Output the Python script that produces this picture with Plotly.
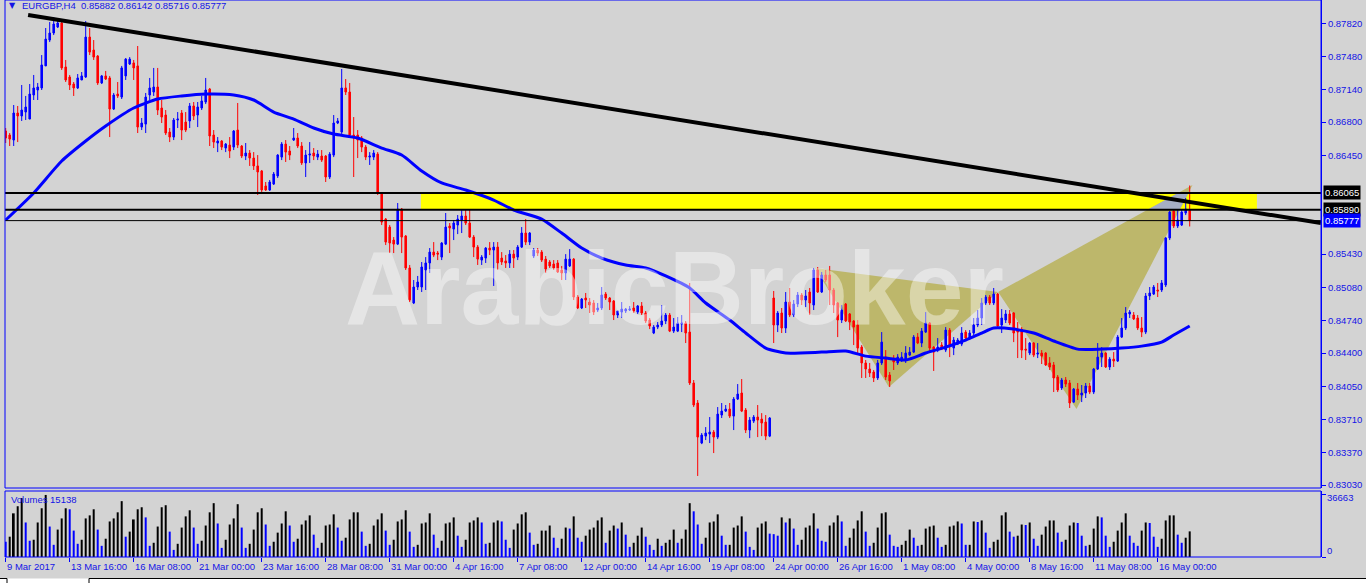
import plotly.graph_objects as go

# ---------------- data ----------------
OPEN = [0.86708,0.86666,0.86614,0.86895,0.86864,0.86905,0.86832,0.87082,0.87134,0.87155,
0.87384,0.87653,0.87726,0.87788,0.87830,0.87373,0.87269,0.87196,0.87155,0.87238,
0.87269,0.87684,0.87549,0.87487,0.87207,0.87280,0.87259,0.86936,0.87092,0.87061,
0.87280,0.87404,0.87415,0.87384,0.86749,0.86780,0.87082,0.87113,0.87165,0.86947,
0.86874,0.86697,0.86645,0.86822,0.86895,0.86801,0.86812,0.86968,0.86874,0.86947,
0.87009,0.87144,0.86666,0.86583,0.86604,0.86531,0.86562,0.86541,0.86718,0.86552,
0.86448,0.86479,0.86427,0.86345,0.86293,0.86137,0.86095,0.86157,0.86241,0.86437,
0.86572,0.86500,0.86614,0.86635,0.86552,0.86376,0.86458,0.86479,0.86437,0.86448,
0.86448,0.86230,0.86458,0.86791,0.86697,0.87155,0.87113,0.86666,0.86666,0.86635,
0.86541,0.86437,0.86437,0.86468,0.86064,0.85793,0.85710,0.85575,0.85533,0.85897,
0.85617,0.85285,0.84921,0.85087,0.85087,0.85264,0.85337,0.85450,0.85440,0.85398,
0.85533,0.85721,0.85689,0.85731,0.85783,0.85825,0.85752,0.85606,0.85502,0.85367,
0.85388,0.85492,0.85471,0.85502,0.85388,0.85358,0.85337,0.85429,0.85398,0.85502,
0.85648,0.85554,0.85409,0.85471,0.85450,0.85377,0.85347,0.85326,0.85337,0.85264,
0.85233,0.85306,0.85377,0.84983,0.84869,0.84973,0.84931,0.84921,0.84848,0.84869,
0.85014,0.84973,0.84942,0.84796,0.84827,0.84838,0.84848,0.84869,0.84827,0.84890,
0.84817,0.84744,0.84609,0.84671,0.84692,0.84734,0.84796,0.84629,0.84629,0.84702,
0.84713,0.84619,0.84090,0.83882,0.83466,0.83538,0.83559,0.83580,0.83528,0.83757,
0.83798,0.83819,0.83746,0.83923,0.83986,0.83809,0.83601,0.83694,0.83736,0.83715,
0.83684,0.83538,0.84973,0.84692,0.84817,0.84661,0.84931,0.84796,0.84910,0.85004,
0.84952,0.85035,0.84900,0.85264,0.85035,0.85212,0.85212,0.85056,0.84921,0.84744,
0.84910,0.84807,0.84734,0.84692,0.84463,0.84298,0.84235,0.84204,0.84142,0.84298,
0.84359,0.84173,0.84338,0.84298,0.84329,0.84329,0.84380,0.84411,0.84567,0.84505,
0.84619,0.84713,0.84463,0.84432,0.84484,0.84432,0.84640,0.84453,0.84494,0.84494,
0.84619,0.84557,0.84609,0.84692,0.84765,0.84921,0.84983,0.84921,0.85014,0.84692,
0.84744,0.84807,0.84817,0.84650,0.84650,0.84442,0.84401,0.84505,0.84390,0.84401,
0.84401,0.84298,0.84277,0.84152,0.84038,0.84121,0.84090,0.83892,0.84027,0.83965,
0.83986,0.84059,0.83996,0.84235,0.84359,0.84401,0.84256,0.84338,0.84318,0.84567,
0.84661,0.84807,0.84796,0.84765,0.84661,0.84619,0.84994,0.85014,0.85056,0.85056,
0.85108,0.85596,0.85877,0.85721,0.85731,0.85856,0.85882]

HIGH = [0.86739,0.86687,0.86978,0.86968,0.87186,0.87072,0.87196,0.87290,0.87207,0.87497,
0.87778,0.87840,0.87892,0.87871,0.87861,0.87446,0.87290,0.87217,0.87300,0.87321,
0.87851,0.87778,0.87653,0.87497,0.87290,0.87332,0.87280,0.87103,0.87217,0.87384,
0.87466,0.87476,0.87446,0.87591,0.86843,0.87103,0.87259,0.87363,0.87363,0.87030,
0.86926,0.86739,0.86843,0.86905,0.86926,0.86905,0.86999,0.87009,0.87009,0.87072,
0.87259,0.87155,0.86718,0.86645,0.86614,0.86583,0.86645,0.86718,0.86999,0.86562,
0.86583,0.86510,0.86489,0.86458,0.86303,0.86178,0.86199,0.86282,0.86468,0.86593,
0.86614,0.86552,0.86739,0.86687,0.86593,0.86510,0.86593,0.86531,0.86510,0.86510,
0.86458,0.86489,0.86874,0.86843,0.87352,0.87248,0.87207,0.86853,0.86718,0.86656,
0.86562,0.86489,0.86510,0.86489,0.86074,0.85804,0.85731,0.85606,0.85960,0.85908,
0.85627,0.85316,0.85160,0.85202,0.85347,0.85398,0.85492,0.85554,0.85461,0.85554,
0.85856,0.85752,0.85783,0.85835,0.85887,0.85887,0.85887,0.85627,0.85523,0.85419,
0.85502,0.85554,0.85554,0.85554,0.85450,0.85419,0.85471,0.85471,0.85523,0.85710,
0.85793,0.85658,0.85492,0.85492,0.85471,0.85409,0.85367,0.85367,0.85367,0.85306,
0.85429,0.85481,0.85388,0.85004,0.84973,0.85025,0.84973,0.84952,0.84921,0.85087,
0.85035,0.84983,0.84952,0.84838,0.84931,0.84869,0.84890,0.84931,0.84900,0.84931,
0.84838,0.84765,0.84692,0.84723,0.84900,0.84817,0.84817,0.84765,0.84775,0.84796,
0.84734,0.85129,0.84121,0.83913,0.83570,0.83632,0.83736,0.83601,0.83840,0.83882,
0.83861,0.83882,0.83944,0.84079,0.84131,0.83830,0.83736,0.83757,0.83861,0.83777,
0.83757,0.83736,0.85046,0.84838,0.84869,0.85035,0.85077,0.84952,0.85035,0.85025,
0.85056,0.85077,0.85285,0.85295,0.85243,0.85264,0.85306,0.85077,0.84931,0.84900,
0.84921,0.84817,0.84744,0.84744,0.84484,0.84329,0.84298,0.84225,0.84329,0.84619,
0.84432,0.84204,0.84380,0.84390,0.84411,0.84473,0.84463,0.84588,0.84609,0.84661,
0.84827,0.84723,0.84473,0.84557,0.84515,0.84671,0.84661,0.84567,0.84557,0.84671,
0.84640,0.84640,0.84765,0.84848,0.84973,0.85004,0.85004,0.85077,0.85025,0.84858,
0.84848,0.84848,0.84827,0.84723,0.84671,0.84557,0.84515,0.84515,0.84505,0.84432,
0.84411,0.84359,0.84308,0.84173,0.84142,0.84152,0.84121,0.84038,0.84090,0.84069,
0.84090,0.84090,0.84246,0.84505,0.84463,0.84411,0.84359,0.84411,0.84588,0.84765,
0.84879,0.84848,0.84827,0.84796,0.84775,0.85025,0.85087,0.85108,0.85129,0.85160,
0.85606,0.85877,0.85897,0.85887,0.85887,0.86012,0.86142]

LOW = [0.86583,0.86552,0.86552,0.86593,0.86812,0.86822,0.86832,0.87030,0.87030,0.87134,
0.87384,0.87632,0.87705,0.87778,0.87342,0.87217,0.87134,0.87072,0.87144,0.87238,
0.87259,0.87497,0.87446,0.87186,0.87196,0.87238,0.86645,0.86926,0.87051,0.87040,
0.87238,0.87394,0.87238,0.86687,0.86718,0.86687,0.87030,0.87072,0.86874,0.86791,
0.86666,0.86593,0.86614,0.86739,0.86614,0.86697,0.86739,0.86822,0.86749,0.86926,
0.86988,0.86552,0.86531,0.86489,0.86510,0.86489,0.86427,0.86510,0.86531,0.86427,
0.86406,0.86345,0.86303,0.86043,0.86053,0.86085,0.86085,0.86147,0.86220,0.86406,
0.86386,0.86406,0.86604,0.86531,0.86355,0.86230,0.86376,0.86406,0.86406,0.86386,
0.86178,0.86209,0.86437,0.86780,0.86666,0.87082,0.86645,0.86230,0.86427,0.86489,
0.86406,0.86355,0.86406,0.86043,0.85731,0.85523,0.85440,0.85440,0.85523,0.85440,
0.85264,0.84931,0.84910,0.85056,0.85035,0.85056,0.85233,0.85398,0.85367,0.85367,
0.85523,0.85440,0.85575,0.85637,0.85648,0.85731,0.85596,0.85398,0.85316,0.85316,
0.85337,0.85419,0.85098,0.85264,0.85316,0.85285,0.85285,0.85285,0.85367,0.85492,
0.85523,0.85523,0.85388,0.85409,0.85347,0.85233,0.85285,0.85264,0.85233,0.85160,
0.85160,0.85295,0.84952,0.84858,0.84858,0.84869,0.84817,0.84796,0.84827,0.84848,
0.84952,0.84848,0.84744,0.84765,0.84765,0.84817,0.84838,0.84817,0.84807,0.84796,
0.84713,0.84650,0.84598,0.84650,0.84671,0.84702,0.84619,0.84609,0.84619,0.84619,
0.84505,0.84069,0.83840,0.83124,0.83455,0.83497,0.83466,0.83362,0.83507,0.83726,
0.83788,0.83726,0.83601,0.83913,0.83788,0.83570,0.83517,0.83674,0.83528,0.83538,
0.83497,0.83528,0.84505,0.84619,0.84609,0.84609,0.84775,0.84775,0.84879,0.84900,
0.84879,0.84796,0.84848,0.85025,0.85025,0.85139,0.84900,0.84817,0.84567,0.84713,
0.84723,0.84640,0.84484,0.84401,0.84142,0.84142,0.84152,0.84100,0.84121,0.84277,
0.84121,0.84048,0.84225,0.84277,0.84308,0.84298,0.84369,0.84401,0.84494,0.84463,
0.84609,0.84401,0.84215,0.84411,0.84432,0.84411,0.84359,0.84380,0.84484,0.84473,
0.84536,0.84536,0.84588,0.84671,0.84692,0.84900,0.84900,0.84900,0.84671,0.84609,
0.84713,0.84692,0.84515,0.84349,0.84349,0.84329,0.84380,0.84359,0.84349,0.84287,
0.84267,0.84225,0.83996,0.83996,0.84017,0.84048,0.83830,0.83882,0.83913,0.83892,
0.83934,0.83975,0.83975,0.84225,0.84256,0.84246,0.84225,0.84256,0.84308,0.84557,
0.84640,0.84765,0.84744,0.84640,0.84567,0.84598,0.84952,0.85004,0.84983,0.85035,
0.85087,0.85575,0.85700,0.85700,0.85721,0.85835,0.85716]

CLOSE = [0.86635,0.86624,0.86895,0.86864,0.86926,0.86957,0.87092,0.87155,0.87165,0.87394,
0.87663,0.87726,0.87819,0.87830,0.87363,0.87238,0.87186,0.87155,0.87259,0.87280,
0.87684,0.87528,0.87476,0.87207,0.87280,0.87248,0.86936,0.87082,0.87072,0.87363,
0.87455,0.87455,0.87363,0.86749,0.86791,0.87061,0.87155,0.87165,0.86926,0.86853,
0.86687,0.86645,0.86822,0.86832,0.86718,0.86718,0.86968,0.86864,0.86957,0.87020,
0.87134,0.86656,0.86593,0.86604,0.86541,0.86572,0.86500,0.86708,0.86562,0.86448,
0.86479,0.86427,0.86345,0.86282,0.86095,0.86095,0.86178,0.86261,0.86458,0.86572,
0.86489,0.86458,0.86635,0.86552,0.86376,0.86458,0.86468,0.86448,0.86468,0.86406,
0.86230,0.86468,0.86791,0.86812,0.87155,0.87113,0.86666,0.86635,0.86614,0.86541,
0.86437,0.86448,0.86479,0.86064,0.85762,0.85554,0.85544,0.85533,0.85897,0.85606,
0.85285,0.84952,0.85087,0.85139,0.85295,0.85337,0.85450,0.85419,0.85429,0.85544,
0.85710,0.85700,0.85752,0.85793,0.85825,0.85752,0.85606,0.85502,0.85377,0.85398,
0.85492,0.85471,0.85502,0.85337,0.85347,0.85337,0.85429,0.85388,0.85502,0.85648,
0.85554,0.85648,0.85471,0.85440,0.85367,0.85274,0.85306,0.85285,0.85243,0.85233,
0.85377,0.85377,0.84983,0.84869,0.84962,0.84952,0.84900,0.84827,0.84869,0.85004,
0.84973,0.84931,0.84796,0.84838,0.84858,0.84858,0.84858,0.84838,0.84890,0.84817,
0.84734,0.84682,0.84671,0.84692,0.84734,0.84796,0.84629,0.84671,0.84713,0.84713,
0.84609,0.84090,0.83861,0.83528,0.83549,0.83570,0.83580,0.83528,0.83767,0.83798,
0.83819,0.83746,0.83923,0.83975,0.83798,0.83601,0.83705,0.83736,0.83705,0.83674,
0.83538,0.83726,0.84692,0.84817,0.84661,0.84931,0.84796,0.84910,0.85004,0.84952,
0.84994,0.84921,0.85264,0.85035,0.85212,0.85160,0.85056,0.84900,0.84744,0.84848,
0.84734,0.84723,0.84671,0.84453,0.84298,0.84235,0.84194,0.84142,0.84298,0.84515,
0.84152,0.84111,0.84308,0.84359,0.84359,0.84401,0.84411,0.84567,0.84505,0.84629,
0.84713,0.84453,0.84411,0.84463,0.84442,0.84640,0.84484,0.84536,0.84536,0.84609,
0.84557,0.84609,0.84692,0.84765,0.84921,0.84983,0.84921,0.85014,0.84682,0.84765,
0.84807,0.84713,0.84609,0.84619,0.84432,0.84432,0.84505,0.84380,0.84401,0.84369,
0.84277,0.84256,0.84142,0.84017,0.84121,0.84079,0.83882,0.84027,0.83965,0.83986,
0.84059,0.83996,0.84235,0.84359,0.84401,0.84256,0.84338,0.84318,0.84567,0.84661,
0.84817,0.84827,0.84755,0.84661,0.84619,0.84994,0.85025,0.85087,0.85046,0.85129,
0.85596,0.85866,0.85721,0.85783,0.85866,0.85897,0.85777]

VOLUME = [9000,12000,25800,30000,34800,20400,9600,10200,20400,28800,
36663,18000,7200,16200,22800,28800,28200,15600,7800,10200,
22800,24600,28200,16200,6600,10800,21000,22800,26400,33000,
12000,15000,22200,28200,29400,23400,6600,8400,18000,29400,
30600,15000,4200,7800,17400,24000,27600,17400,7800,9600,
18600,26400,31800,19800,5400,10200,19200,22800,31200,17400,
5400,7800,16200,26400,28800,19200,6600,9000,14400,19800,
27000,18600,9000,10800,19200,21600,24600,13200,5400,8400,
18600,19200,25200,17400,9600,11400,22200,26400,26400,15000,
6600,7800,18600,22200,25800,15600,7200,10200,21000,22200,
27600,15000,6000,7200,19800,20400,25800,13200,5400,9600,
19800,20400,23400,12600,6000,10200,20400,21600,23400,20400,
7800,8400,20400,21600,21000,10200,5400,16200,19800,25200,
26400,14400,7200,7800,15600,15600,18600,11400,5400,10800,
17400,16800,24000,11400,9000,12600,16200,17400,21600,23400,
8400,15600,18600,16800,20400,13200,6000,8400,12600,17400,
12000,7200,4200,10800,6600,8400,10200,16200,8400,10800,
16200,31800,27000,19200,7800,11400,20400,21000,25200,12600,
7200,7200,17400,18600,24000,15000,6000,4200,17400,19800,
21000,13800,13500,12600,23400,20400,22800,16800,7200,10200,
17400,18600,25800,16800,9600,9000,18600,20400,24600,21000,
6600,11400,16800,21600,27000,15000,6600,8400,17400,25800,
26400,13200,6600,6000,7200,9600,16200,11400,6600,7200,
16800,18000,18600,11400,6000,7200,18000,18600,21000,19800,
7200,7200,21000,20700,21600,14400,5400,9000,10200,24600,
26400,15000,12000,12600,19200,18900,20400,10800,6600,13200,
18000,21600,21600,14400,9000,10200,18600,20400,20100,12600,
6600,7200,16800,24000,23400,12600,6000,9000,15600,20400,
25800,12600,8400,6600,15600,20400,20100,12000,6000,10800,
21600,24600,24600,13200,8400,11400,15138]

BARS = list(range(len(CLOSE)))

MA_IDX = [0,7,14,20,25,32,38,44,50,57,62,67,72,77,82,88,94,99,104,109,
          115,122,127,134,139,144,149,155,160,165,171,175,181,185,190,195,204,210,215,220,
          225,230,235,240,244,247,252,257,262,268,274,279,284,289,292,296]
MA_VAL = [0.85783,0.86064,0.86396,0.86604,0.86760,0.86947,0.87040,0.87072,0.87092,0.87082,
          0.87030,0.86905,0.86832,0.86739,0.86676,0.86635,0.86531,0.86458,0.86293,0.86168,
          0.86095,0.85991,0.85887,0.85793,0.85648,0.85492,0.85388,0.85316,0.85285,0.85202,
          0.85077,0.84921,0.84744,0.84609,0.84453,0.84401,0.84411,0.84422,0.84369,0.84349,
          0.84329,0.84401,0.84463,0.84536,0.84609,0.84661,0.84650,0.84609,0.84526,0.84442,
          0.84442,0.84453,0.84473,0.84515,0.84588,0.84682]

TICK_IDX = [0,16,32,48,64,80,96,112,128,144,160,176,192,208,224,240,256,272,288]
TICK_TEXT = ["9 Mar 2017","13 Mar 16:00","16 Mar 08:00","21 Mar 00:00","23 Mar 16:00",
             "28 Mar 08:00","31 Mar 00:00","4 Apr 16:00","7 Apr 08:00","12 Apr 00:00",
             "14 Apr 16:00","19 Apr 08:00","24 Apr 00:00","26 Apr 16:00","1 May 08:00",
             "4 May 00:00","8 May 16:00","11 May 08:00","16 May 00:00"]
PRICE_TICKS = [0.87820,0.87480,0.87140,0.86800,0.86450,0.85430,
               0.85080,0.84740,0.84400,0.84050,0.83710,0.83370,0.83030]

LEVELS = [0.86065, 0.85890]
BID = 0.85777
ZONE_X = [103.8, 312.8]
ZONE_Y = [0.85890, 0.86065]
TREND_X = [5.6, 328.8]
TREND_Y = [0.87913, 0.85752]
PATTERN_X = [202.3, 220.8, 248.1, 267.7, 296.7]
PATTERN_Y = [0.85285, 0.84048, 0.85035, 0.83819, 0.86147]
VOL_MAX_LABEL = 36663
HEADER = "EURGBP,H4\u00a0\u00a00.85882 0.86142 0.85716 0.85777"
WATERMARK = "ArabicBroker"

# ---------------- geometry / style ----------------
W, H = 1366, 583
ML, MR, MT, MB = 5, 45, 0, 26
PW = W - ML - MR          # 1316
PH = H - MT - MB          # 557
MAIN_BOTTOM = (PH - 488) / PH
VOL_TOP = (PH - 491) / PH
BG = "#D3D3D3"
AXC = "#0000FF"
TXT = "#1414E6"
FONT = "Liberation Sans"

def py(abs_y):
    return (PH - abs_y) / PH

def px(abs_x):
    return (abs_x - ML) / PW

fig = go.Figure()

fig.add_trace(go.Candlestick(
    x=BARS, open=OPEN, high=HIGH, low=LOW, close=CLOSE,
    increasing=dict(line=dict(color="#0000FF", width=1), fillcolor="#0000FF"),
    decreasing=dict(line=dict(color="#FF0000", width=1), fillcolor="#FF0000"),
    whiskerwidth=0, xaxis="x", yaxis="y", showlegend=False, hoverinfo="skip"))

fig.add_trace(go.Scatter(
    x=MA_IDX, y=MA_VAL, mode="lines", line=dict(color="#0000FF", width=3, shape="spline", smoothing=0.6),
    xaxis="x", yaxis="y", showlegend=False, hoverinfo="skip"))

vol_colors = []
for k, v in enumerate(VOLUME):
    vol_colors.append("#0000FF" if (k == 0 or v < VOLUME[k - 1]) else "#000000")
fig.add_trace(go.Bar(
    x=BARS, y=VOLUME, marker=dict(color=vol_colors, line=dict(width=0)), width=0.5,
    xaxis="x2", yaxis="y2", showlegend=False, hoverinfo="skip"))

shapes = []
shapes.append(dict(type="rect", xref="x", yref="y", x0=ZONE_X[0], x1=ZONE_X[1], y0=ZONE_Y[0], y1=ZONE_Y[1],
                   fillcolor="#FFFF00", line=dict(width=0), layer="below"))
P = list(zip(PATTERN_X, PATTERN_Y))
def path(pts):
    return "M " + " L ".join(f"{a},{b}" for a, b in pts) + " Z"
OLIVE = "#BDB76B"
shapes.append(dict(type="path", xref="x", yref="y", path=path([P[0], P[1], P[2]]),
                   fillcolor=OLIVE, line=dict(width=0), layer="below"))
shapes.append(dict(type="path", xref="x", yref="y", path=path([P[2], P[3], P[4]]),
                   fillcolor=OLIVE, line=dict(width=0), layer="below"))

def clip_band(poly, lo, hi):
    def clip(pts, keep, yv):
        out = []
        n = len(pts)
        for k in range(n):
            p, q = pts[k], pts[(k + 1) % n]
            kp, kq = keep(p), keep(q)
            if kp:
                out.append(p)
            if kp != kq:
                t = (yv - p[1]) / (q[1] - p[1])
                out.append((p[0] + t * (q[0] - p[0]), yv))
        return out
    pts = clip(poly, lambda p: p[1] >= lo, lo)
    pts = clip(pts, lambda p: p[1] <= hi, hi)
    return pts

ov = clip_band([P[2], P[3], P[4]], ZONE_Y[0], ZONE_Y[1])
if len(ov) >= 3:
    shapes.append(dict(type="path", xref="x", yref="y", path=path(ov),
                       fillcolor="#A6AFC4", line=dict(width=0), layer="below"))

for lv in LEVELS:
    shapes.append(dict(type="line", xref="paper", yref="y", x0=0, x1=1, y0=lv, y1=lv,
                       line=dict(color="#000000", width=2)))
shapes.append(dict(type="line", xref="paper", yref="y", x0=0, x1=1, y0=BID, y1=BID,
                   line=dict(color="#000000", width=1)))
shapes.append(dict(type="line", xref="x", yref="y", x0=TREND_X[0], x1=TREND_X[1], y0=TREND_Y[0], y1=TREND_Y[1],
                   line=dict(color="#000000", width=4)))
shapes.append(dict(type="rect", xref="paper", yref="paper", x0=0, x1=1, y0=MAIN_BOTTOM, y1=1,
                   line=dict(color=AXC, width=1), fillcolor="rgba(0,0,0,0)"))
shapes.append(dict(type="rect", xref="paper", yref="paper", x0=0, x1=1, y0=0, y1=VOL_TOP,
                   line=dict(color=AXC, width=1), fillcolor="rgba(0,0,0,0)"))
shapes.append(dict(type="rect", xref="paper", yref="paper", x0=px(-2), x1=px(1370), y0=py(584), y1=py(578.5),
                   fillcolor="#FFFFFF", line=dict(width=0)))
shapes.append(dict(type="line", xref="paper", yref="paper", x0=px(0), x1=px(7), y0=py(578.5), y1=py(578.5),
                   line=dict(color="#000000", width=1)))
shapes.append(dict(type="line", xref="paper", yref="paper", x0=px(89), x1=px(1366), y0=py(578.5), y1=py(578.5),
                   line=dict(color="#000000", width=1)))
shapes.append(dict(type="line", xref="paper", yref="paper", x0=px(7), x1=px(7), y0=py(578.5), y1=py(584),
                   line=dict(color="#000000", width=1)))
shapes.append(dict(type="line", xref="paper", yref="paper", x0=px(89), x1=px(89), y0=py(578.5), y1=py(584),
                   line=dict(color="#000000", width=1)))

ann = []
ann.append(dict(text=f"<b>{WATERMARK}</b>", xref="paper", yref="paper", x=px(674), y=py(288),
                xanchor="center", yanchor="middle", showarrow=False,
                font=dict(family=FONT, size=104, color="rgba(255,255,255,0.42)")))
ann.append(dict(text="\u25bc", xref="paper", yref="paper", x=px(7), y=py(5), xanchor="left", yanchor="middle",
                showarrow=False, font=dict(family="DejaVu Sans", size=8, color=TXT)))
ann.append(dict(text=HEADER, xref="paper", yref="paper", x=px(20), y=py(5), xanchor="left", yanchor="middle",
                showarrow=False, font=dict(family=FONT, size=9.5, color=TXT)))
ann.append(dict(text=f"Volumes {VOLUME[-1]}", xref="paper", yref="paper", x=px(9), y=py(499.5),
                xanchor="left", yanchor="middle", showarrow=False, font=dict(family=FONT, size=9.5, color=TXT)))
ann.append(dict(text=str(VOL_MAX_LABEL), xref="paper", yref="paper", x=1, xshift=4, y=py(497),
                xanchor="left", yanchor="middle", showarrow=False, font=dict(family=FONT, size=9.5, color=TXT)))
ann.append(dict(text="0", xref="paper", yref="paper", x=1, xshift=4, y=py(550),
                xanchor="left", yanchor="middle", showarrow=False, font=dict(family=FONT, size=9.5, color=TXT)))
for ti, tt in zip(TICK_IDX, TICK_TEXT):
    ann.append(dict(text=tt, xref="x", yref="paper", x=ti, xshift=-1, y=py(566.5),
                    xanchor="left", yanchor="middle", showarrow=False,
                    font=dict(family=FONT, size=9.5, color=TXT)))
for lv, bg in [(LEVELS[0], "#000000"), (LEVELS[1], "#000000"), (BID, "#0000FF")]:
    ann.append(dict(text=f"{lv:.5f}", xref="paper", yref="y", x=1, xshift=2, y=lv,
                    xanchor="left", yanchor="middle", showarrow=False, bgcolor=bg, borderpad=1,
                    font=dict(family=FONT, size=9.5, color="#FFFFFF")))

fig.update_layout(
    width=W, height=H, margin=dict(l=ML, r=MR, t=MT, b=MB),
    paper_bgcolor=BG, plot_bgcolor=BG, showlegend=False, boxgap=0.45, bargap=0.5,
    xaxis=dict(domain=[0, 1], range=[-0.175, 328.825], anchor="y", showgrid=False, zeroline=False,
               showticklabels=False, ticks="", rangeslider=dict(visible=False), fixedrange=True),
    yaxis=dict(domain=[MAIN_BOTTOM, 1], range=[0.82999, 0.88069], side="right", anchor="x",
               tickvals=PRICE_TICKS, ticktext=[f"{v:.5f}" for v in PRICE_TICKS],
               ticks="outside", ticklen=4, tickcolor=AXC, showgrid=False, zeroline=False,
               tickfont=dict(family=FONT, size=9.5, color=TXT), showline=True, linecolor=AXC, linewidth=1),
    xaxis2=dict(domain=[0, 1], matches="x", anchor="y2", showgrid=False, zeroline=False,
                tickvals=TICK_IDX, ticks="outside", ticklen=4, tickcolor=AXC, showticklabels=False,
                rangeslider=dict(visible=False)),
    yaxis2=dict(domain=[0, VOL_TOP], range=[0, 39000], side="right", anchor="x2", showgrid=False,
                zeroline=False, tickvals=[0, VOL_MAX_LABEL], ticks="outside", ticklen=4, tickcolor=AXC,
                showticklabels=False, showline=True, linecolor=AXC, linewidth=1),
    shapes=shapes, annotations=ann,
)

fig.write_html("out.html", config={"displayModeBar": False},
               post_script="document.body.style.margin='0';document.body.style.padding='0';document.body.style.overflow='hidden';")
